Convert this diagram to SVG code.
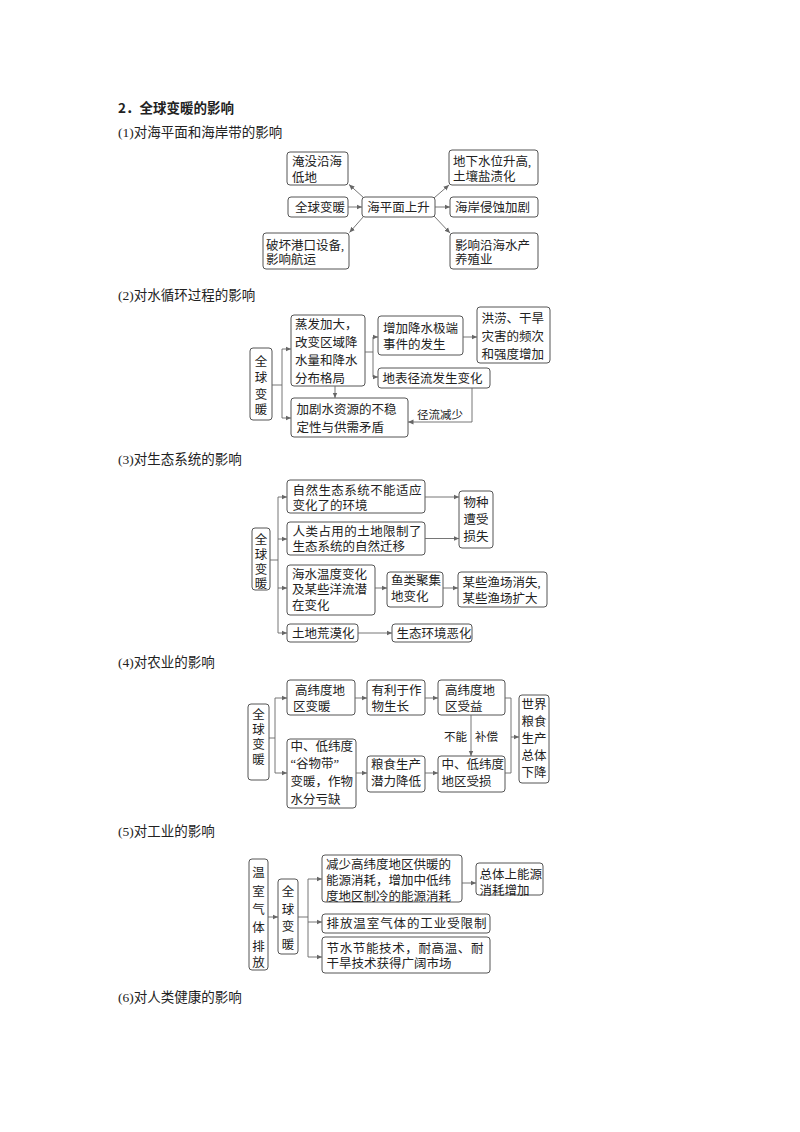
<svg xmlns="http://www.w3.org/2000/svg" width="800" height="1132" viewBox="0 0 800 1132">
<style>
.bg{fill:#fff}
.h{font-family:"Liberation Serif","Noto Sans CJK SC",serif;font-size:13.5px;fill:#222;dominant-baseline:central}
.hb{font-family:"Noto Sans CJK SC",sans-serif;font-size:13.5px;font-weight:600;fill:#222;dominant-baseline:central}
.t{font-family:"Liberation Serif","Noto Sans CJK SC",serif;font-size:12.5px;fill:#222;dominant-baseline:central}
.s{font-family:"Liberation Serif","Noto Sans CJK SC",serif;font-size:11.5px;fill:#222;dominant-baseline:central}
.c{text-anchor:middle}
.b{fill:#fff;stroke:#555;stroke-width:1}
.l{fill:none;stroke:#666;stroke-width:0.9}
.a{fill:none;stroke:#666;stroke-width:0.9;marker-end:url(#ah)}
</style>
<defs>
<marker id="ah" markerWidth="6" markerHeight="6" refX="5.5" refY="3" orient="auto" markerUnits="userSpaceOnUse">
<path d="M0,0.6 L5.5,3 L0,5.4 Z" fill="#666"/>
</marker>
</defs>
<rect class="bg" x="0" y="0" width="800" height="1132"/>

<g id="headings">
<text class="hb" x="118" y="107">2．全球变暖的影响</text>
<text class="h" x="118" y="132">(1)对海平面和海岸带的影响</text>
<text class="h" x="118" y="295">(2)对水循环过程的影响</text>
<text class="h" x="118" y="459">(3)对生态系统的影响</text>
<text class="h" x="118" y="662">(4)对农业的影响</text>
<text class="h" x="118" y="831">(5)对工业的影响</text>
<text class="h" x="118" y="997">(6)对人类健康的影响</text>
</g>

<!-- Section 1 -->
<g id="s1-yanmo"><rect class="b" x="287" y="152" width="61" height="33" rx="3"/>
<text class="t" x="292" y="161.5">淹没沿海</text><text class="t" x="292" y="178">低地</text></g>
<g id="s1-quanqiu"><rect class="b" x="288" y="197" width="60" height="20" rx="3"/>
<text class="t" x="295" y="207.5">全球变暖</text></g>
<g id="s1-pohuai"><rect class="b" x="263" y="233" width="86" height="36" rx="3"/>
<text class="t" x="266" y="246">破坏港口设备,</text><text class="t" x="266" y="260">影响航运</text></g>
<g id="s1-haipingmian"><rect class="b" x="362" y="197" width="73" height="20" rx="3"/>
<text class="t c" x="398.5" y="207.5">海平面上升</text></g>
<g id="s1-dixia"><rect class="b" x="449" y="150" width="89" height="35" rx="3"/>
<text class="t" x="453" y="161.5">地下水位升高,</text><text class="t" x="453" y="176.5">土壤盐渍化</text></g>
<g id="s1-haian"><rect class="b" x="450" y="197" width="88" height="20" rx="3"/>
<text class="t" x="455" y="207.5">海岸侵蚀加剧</text></g>
<g id="s1-yingxiang"><rect class="b" x="450" y="233" width="88" height="36" rx="3"/>
<text class="t" x="455" y="246">影响沿海水产</text><text class="t" x="455" y="259.5">养殖业</text></g>
<g id="s1-connectors">
<line class="a" x1="364" y1="198" x2="349" y2="184.5"/>
<line class="a" x1="348" y1="207" x2="362" y2="207"/>
<line class="a" x1="364" y1="216" x2="349.5" y2="232.5"/>
<line class="a" x1="434" y1="198" x2="449" y2="185"/>
<line class="a" x1="435" y1="207" x2="450" y2="207"/>
<line class="a" x1="434" y1="216" x2="450" y2="233"/>
</g>

<!-- Section 2 -->
<g id="s2-quanqiu"><rect class="b" x="250" y="348" width="22" height="72" rx="3"/>
<text class="t c"><tspan x="261" y="361.5">全</tspan><tspan x="261" y="378">球</tspan><tspan x="261" y="394.5">变</tspan><tspan x="261" y="410">暖</tspan></text></g>
<g id="s2-zhengfa"><rect class="b" x="291" y="315" width="74" height="71" rx="3"/>
<text class="t" x="295" y="325">蒸发加大，</text><text class="t" x="295" y="343">改变区域降</text><text class="t" x="295" y="361">水量和降水</text><text class="t" x="295" y="378.5">分布格局</text></g>
<g id="s2-zengjia"><rect class="b" x="378" y="316" width="85" height="39" rx="3"/>
<text class="t" x="383" y="328.5">增加降水极端</text><text class="t" x="383" y="345">事件的发生</text></g>
<g id="s2-honglao"><rect class="b" x="477" y="307" width="73" height="56" rx="3"/>
<text class="t" x="481.5" y="318.5">洪涝、干旱</text><text class="t" x="481.5" y="336.5">灾害的频次</text><text class="t" x="481.5" y="354.5">和强度增加</text></g>
<g id="s2-dibiao"><rect class="b" x="378" y="368" width="112" height="20" rx="3"/>
<text class="t" x="382.5" y="378.5">地表径流发生变化</text></g>
<g id="s2-jiaju"><rect class="b" x="291" y="398" width="117" height="39" rx="3"/>
<text class="t" x="296.5" y="410">加剧水资源的不稳</text><text class="t" x="296.5" y="428">定性与供需矛盾</text></g>
<g id="s2-connectors">
<polyline class="l" points="272,385 282,385"/>
<line class="l" x1="282" y1="349" x2="282" y2="418"/>
<line class="a" x1="282" y1="349" x2="291" y2="349"/>
<line class="a" x1="282" y1="418" x2="291" y2="418"/>
<line class="l" x1="365" y1="352" x2="373" y2="352"/>
<line class="l" x1="373" y1="337" x2="373" y2="377"/>
<line class="a" x1="373" y1="337" x2="378" y2="337"/>
<line class="a" x1="373" y1="377" x2="378" y2="377"/>
<line class="a" x1="463" y1="337" x2="477" y2="337"/>
<line class="a" x1="335" y1="386" x2="335" y2="398"/>
<polyline class="a" points="472,388 472,422 408,422"/>
<text class="s" x="417" y="414.5">径流减少</text>
</g>

<!-- Section 3 -->
<g id="s3-quanqiu"><rect class="b" x="252" y="528" width="18" height="62" rx="3"/>
<text class="t c"><tspan x="261" y="540">全</tspan><tspan x="261" y="555">球</tspan><tspan x="261" y="570">变</tspan><tspan x="261" y="584">暖</tspan></text></g>
<g id="s3-ziran"><rect class="b" x="287" y="480" width="138" height="33" rx="3"/>
<text class="t" x="292.5" y="490.5" textLength="129">自然生态系统不能适应</text><text class="t" x="292.5" y="505.5">变化了的环境</text></g>
<g id="s3-renlei"><rect class="b" x="287" y="522" width="138" height="33" rx="3"/>
<text class="t" x="292.5" y="531.5" textLength="129">人类占用的土地限制了</text><text class="t" x="292.5" y="546.5">生态系统的自然迁移</text></g>
<g id="s3-haishui"><rect class="b" x="287" y="565" width="88" height="50" rx="3"/>
<text class="t" x="292" y="575">海水温度变化</text><text class="t" x="292" y="590">及某些洋流潜</text><text class="t" x="292" y="605.5">在变化</text></g>
<g id="s3-tudi"><rect class="b" x="287" y="624" width="71" height="18" rx="3"/>
<text class="t" x="292" y="633.5">土地荒漠化</text></g>
<g id="s3-wuzhong"><rect class="b" x="459" y="491" width="34" height="57" rx="3"/>
<text class="t c"><tspan x="476" y="503">物种</tspan><tspan x="476" y="520">遭受</tspan><tspan x="476" y="536.5">损失</tspan></text></g>
<g id="s3-yulei"><rect class="b" x="387" y="572" width="56" height="35" rx="3"/>
<text class="t" x="391" y="580.5">鱼类聚集</text><text class="t" x="391" y="597">地变化</text></g>
<g id="s3-yuchang"><rect class="b" x="458" y="572" width="89" height="35" rx="3"/>
<text class="t" x="462.5" y="583">某些渔场消失,</text><text class="t" x="462.5" y="598.5">某些渔场扩大</text></g>
<g id="s3-shengtai"><rect class="b" x="392" y="624" width="80" height="18" rx="3"/>
<text class="t" x="396.5" y="633.5">生态环境恶化</text></g>
<g id="s3-connectors">
<line class="l" x1="270" y1="560" x2="278" y2="560"/>
<line class="l" x1="278" y1="497" x2="278" y2="633"/>
<line class="a" x1="278" y1="497" x2="287" y2="497"/>
<line class="a" x1="278" y1="539" x2="287" y2="539"/>
<line class="a" x1="278" y1="588" x2="287" y2="588"/>
<line class="a" x1="278" y1="633" x2="287" y2="633"/>
<line class="a" x1="425" y1="497" x2="459" y2="497"/>
<line class="a" x1="425" y1="538.5" x2="459" y2="538.5"/>
<line class="a" x1="375" y1="588" x2="387" y2="588"/>
<line class="a" x1="443" y1="588" x2="458" y2="588"/>
<line class="a" x1="358" y1="633" x2="392" y2="633"/>
</g>

<!-- Section 4 -->
<g id="s4-quanqiu"><rect class="b" x="248" y="704" width="21" height="76" rx="3"/>
<text class="t c"><tspan x="258.5" y="715">全</tspan><tspan x="258.5" y="730">球</tspan><tspan x="258.5" y="745">变</tspan><tspan x="258.5" y="760">暖</tspan></text></g>
<g id="s4-gaowei"><rect class="b" x="287" y="680" width="68" height="35" rx="3"/>
<text class="t" x="295" y="690.5">高纬度地</text><text class="t" x="293" y="707">区变暖</text></g>
<g id="s4-youli"><rect class="b" x="367" y="680" width="58" height="35" rx="3"/>
<text class="t" x="371.5" y="690.5">有利于作</text><text class="t" x="371.5" y="707">物生长</text></g>
<g id="s4-shouyi"><rect class="b" x="438" y="680" width="67" height="35" rx="3"/>
<text class="t" x="445" y="690.5">高纬度地</text><text class="t" x="445" y="707">区受益</text></g>
<g id="s4-shijie"><rect class="b" x="519" y="695" width="30" height="88" rx="3"/>
<text class="t c"><tspan x="534" y="705">世界</tspan><tspan x="534" y="721.5">粮食</tspan><tspan x="534" y="738.5">生产</tspan><tspan x="534" y="756">总体</tspan><tspan x="534" y="773">下降</tspan></text></g>
<g id="s4-zhongdi"><rect class="b" x="287" y="739" width="69" height="69" rx="3"/>
<text class="t" x="290.5" y="746.5">中、低纬度</text><text class="t" x="290.5" y="763.5">“谷物带”</text><text class="t" x="290.5" y="781.5">变暖，作物</text><text class="t" x="290.5" y="799.5">水分亏缺</text></g>
<g id="s4-liangshi"><rect class="b" x="367" y="756" width="58" height="36" rx="3"/>
<text class="t" x="371" y="764.5">粮食生产</text><text class="t" x="371" y="781.5">潜力降低</text></g>
<g id="s4-shousun"><rect class="b" x="438" y="756" width="67" height="36" rx="3"/>
<text class="t" x="441.5" y="764.5">中、低纬度</text><text class="t" x="441.5" y="781.5">地区受损</text></g>
<g id="s4-connectors">
<line class="l" x1="269" y1="738" x2="275" y2="738"/>
<line class="l" x1="275" y1="698" x2="275" y2="773"/>
<line class="a" x1="275" y1="698" x2="287" y2="698"/>
<line class="a" x1="275" y1="773" x2="287" y2="773"/>
<line class="a" x1="355" y1="698" x2="367" y2="698"/>
<line class="a" x1="425" y1="698" x2="438" y2="698"/>
<line class="a" x1="356" y1="773" x2="367" y2="773"/>
<line class="a" x1="425" y1="773" x2="438" y2="773"/>
<line class="a" x1="471" y1="715" x2="471" y2="756"/>
<text class="s" x="444" y="737">不能</text>
<text class="s" x="475" y="737">补偿</text>
<polyline class="l" points="505,698 511,698 511,773 505,773"/>
<line class="a" x1="511" y1="737" x2="519" y2="737"/>
</g>

<!-- Section 5 -->
<g id="s5-wenshi"><rect class="b" x="249" y="859" width="19" height="111" rx="3"/>
<text class="t c"><tspan x="258.5" y="873">温</tspan><tspan x="258.5" y="891.5">室</tspan><tspan x="258.5" y="910">气</tspan><tspan x="258.5" y="928">体</tspan><tspan x="258.5" y="946.5">排</tspan><tspan x="258.5" y="963">放</tspan></text></g>
<g id="s5-quanqiu"><rect class="b" x="278" y="879" width="20" height="75" rx="3"/>
<text class="t c"><tspan x="288" y="891.5">全</tspan><tspan x="288" y="909.5">球</tspan><tspan x="288" y="927">变</tspan><tspan x="288" y="944.5">暖</tspan></text></g>
<g id="s5-jianshao"><rect class="b" x="322" y="855" width="140" height="47" rx="3"/>
<text class="t" x="326" y="865">减少高纬度地区供暖的</text><text class="t" x="326" y="881">能源消耗，增加中低纬</text><text class="t" x="326" y="896.5">度地区制冷的能源消耗</text></g>
<g id="s5-zongti"><rect class="b" x="476" y="863" width="67" height="32" rx="3"/>
<text class="t" x="479.5" y="875">总体上能源</text><text class="t" x="479.5" y="890.5">消耗增加</text></g>
<g id="s5-paifang"><rect class="b" x="322" y="914" width="168" height="19" rx="3"/>
<text class="t" x="326.5" y="923.5" textLength="160">排放温室气体的工业受限制</text></g>
<g id="s5-jieshui"><rect class="b" x="322" y="937" width="168" height="36" rx="3"/>
<text class="t" x="326.5" y="948.5" textLength="157">节水节能技术，耐高温、耐</text><text class="t" x="326.5" y="963.5">干旱技术获得广阔市场</text></g>
<g id="s5-connectors">
<line class="a" x1="268" y1="917" x2="278" y2="917"/>
<line class="l" x1="298" y1="917" x2="308" y2="917"/>
<line class="l" x1="308" y1="879" x2="308" y2="957"/>
<line class="a" x1="308" y1="879" x2="322" y2="879"/>
<line class="a" x1="308" y1="922" x2="322" y2="922"/>
<line class="a" x1="308" y1="957" x2="322" y2="957"/>
<line class="a" x1="462" y1="883" x2="476" y2="883"/>
</g>
</svg>
